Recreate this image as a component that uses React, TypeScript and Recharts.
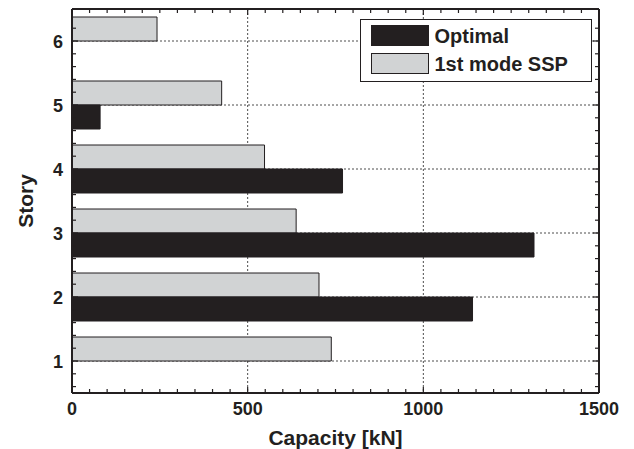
import { BarChart, Bar, XAxis, YAxis, CartesianGrid, Legend, Label } from "recharts";

const stories = [1, 2, 3, 4, 5, 6];
const optimal = [0, 1140, 1315, 770, 80, 0];
const firstModeSsp = [738, 703, 638, 548, 426, 242];

const capacityTicks = [0, 500, 1000, 1500];
const storyTicks = [1, 2, 3, 4, 5, 6];

// minor ticks every 50 kN along x and every 0.2 story along y
const capacityMinor = Array.from({ length: 31 }, (_, i) => i * 50);
const storyMinor = Array.from({ length: 29 }, (_, i) => (3 + i) / 5);

const ink = "#231f20";
const grey = "#d1d3d4";
const font = '"Liberation Sans", Arial, Helvetica, sans-serif';

const series = [
  { key: "optimal", name: "Optimal", fill: ink },
  { key: "ssp", name: "1st mode SSP", fill: grey },
];

const data = stories.map((s, i) => ({
  story: s,
  optimal: optimal[i],
  ssp: firstModeSsp[i],
}));

const isWhole = (v: number) => Math.abs(v - Math.round(v)) < 1e-6;

function BottomTick({ x, y, payload }: any) {
  const v = payload.value;
  const major = v % 500 === 0;
  return (
    <g>
      <line x1={x} x2={x} y1={y} y2={y - (major ? 6 : 4)} stroke={ink} strokeWidth={1.2} />
      {major && (
        <text x={x} y={y + 22} textAnchor="middle" fontSize={18} fontWeight="bold" fill={ink} fontFamily={font}>
          {v}
        </text>
      )}
    </g>
  );
}

function TopTick({ x, y, payload }: any) {
  const major = payload.value % 500 === 0;
  return <line x1={x} x2={x} y1={y} y2={y + (major ? 6 : 4)} stroke={ink} strokeWidth={1.2} />;
}

function LeftTick({ x, y, payload }: any) {
  const v = payload.value;
  const major = isWhole(v);
  return (
    <g>
      <line x1={x} x2={x + (major ? 6 : 4)} y1={y} y2={y} stroke={ink} strokeWidth={1.2} />
      {major && (
        <text x={x - 9} y={y + 6.5} textAnchor="end" fontSize={18} fontWeight="bold" fill={ink} fontFamily={font}>
          {Math.round(v)}
        </text>
      )}
    </g>
  );
}

function RightTick({ x, y, payload }: any) {
  const major = isWhole(payload.value);
  return <line x1={x} x2={x - (major ? 6 : 4)} y1={y} y2={y} stroke={ink} strokeWidth={1.2} />;
}

function StoryTitle({ viewBox }: any) {
  const cx = viewBox.x + viewBox.width - 39;
  const cy = viewBox.y + viewBox.height / 2;
  return (
    <text
      x={0}
      y={0}
      transform={`translate(${cx}, ${cy}) rotate(-90)`}
      textAnchor="middle"
      fontSize={21}
      fontWeight="bold"
      fill={ink}
      fontFamily={font}
    >
      Story
    </text>
  );
}

function LegendBox() {
  return (
    <div
      style={{
        width: 232,
        height: 63,
        boxSizing: "border-box",
        border: `1.5px solid ${ink}`,
        background: "#fff",
        padding: "1.5px 0 0 9.5px",
      }}
    >
      {series.map((s) => (
        <div key={s.key} style={{ display: "flex", alignItems: "center", height: 28.3 }}>
          <span
            style={{
              display: "inline-block",
              width: 58,
              height: 21,
              background: s.fill,
              border: `1px solid ${ink}`,
              boxSizing: "border-box",
            }}
          />
          <span style={{ marginLeft: 6, fontSize: 20, fontWeight: "bold", fontFamily: font, color: ink, lineHeight: 1 }}>
            {s.name}
          </span>
        </div>
      ))}
    </div>
  );
}

export default function App() {
  return (
    <div style={{ position: "absolute", left: 0, top: 0, background: "#fff" }}>
      <BarChart
        width={634}
        height={449}
        data={data}
        layout="vertical"
        margin={{ top: 8, right: 34, bottom: 55, left: 71 }}
        barCategoryGap={8}
        barGap={0}
      >
        <YAxis
          yAxisId="left"
          type="number"
          dataKey="story"
          domain={[0.5, 6.5]}
          reversed
          ticks={storyMinor}
          interval={0}
          width={1}
          tickSize={0}
          tickMargin={0}
          tickLine={false}
          tick={<LeftTick />}
          axisLine={{ stroke: ink, strokeWidth: 2 }}
          allowDataOverflow
          label={<StoryTitle />}
        />
        <YAxis
          yAxisId="right"
          orientation="right"
          type="number"
          dataKey="story"
          domain={[0.5, 6.5]}
          reversed
          ticks={storyMinor}
          interval={0}
          width={1}
          tickSize={0}
          tickMargin={0}
          tickLine={false}
          tick={<RightTick />}
          axisLine={{ stroke: ink, strokeWidth: 2 }}
          allowDataOverflow
        />
        <XAxis
          xAxisId="bottom"
          type="number"
          domain={[0, 1500]}
          ticks={capacityMinor}
          interval={0}
          height={1}
          tickSize={0}
          tickMargin={0}
          tickLine={false}
          tick={<BottomTick />}
          axisLine={{ stroke: ink, strokeWidth: 2 }}
          allowDataOverflow
        >
          <Label value="Capacity [kN]" position="bottom" offset={36} fontSize={21} fontWeight="bold" fill={ink} fontFamily={font} />
        </XAxis>
        <XAxis
          xAxisId="top"
          orientation="top"
          type="number"
          domain={[0, 1500]}
          ticks={capacityMinor}
          interval={0}
          height={1}
          tickSize={0}
          tickMargin={0}
          tickLine={false}
          tick={<TopTick />}
          axisLine={{ stroke: ink, strokeWidth: 2 }}
          allowDataOverflow
        />

        {/* hidden helper axes: grid positions and the story bands for the bars */}
        <XAxis xAxisId="grid" type="number" domain={[0, 1500]} ticks={capacityTicks} height={0} hide allowDataOverflow />
        <YAxis yAxisId="gridY" type="number" dataKey="story" domain={[0.5, 6.5]} reversed ticks={storyTicks} width={0} hide allowDataOverflow />
        <YAxis yAxisId="cat" type="category" dataKey="story" reversed width={0} hide />
        <CartesianGrid xAxisId="grid" yAxisId="gridY" stroke="#4d4d4d" strokeDasharray="2 2" strokeWidth={1} />

        <Bar
          dataKey="ssp"
          name="1st mode SSP"
          xAxisId="bottom"
          yAxisId="cat"
          fill={grey}
          stroke={ink}
          strokeWidth={1}
          isAnimationActive={false}
        />
        <Bar
          dataKey="optimal"
          name="Optimal"
          xAxisId="bottom"
          yAxisId="cat"
          fill={ink}
          stroke={ink}
          strokeWidth={1}
          isAnimationActive={false}
        />

        <Legend
          layout="vertical"
          align="center"
          verticalAlign="middle"
          wrapperStyle={{ top: 19, left: 360, width: "auto", height: "auto" }}
          content={<LegendBox />}
        />
      </BarChart>
    </div>
  );
}
